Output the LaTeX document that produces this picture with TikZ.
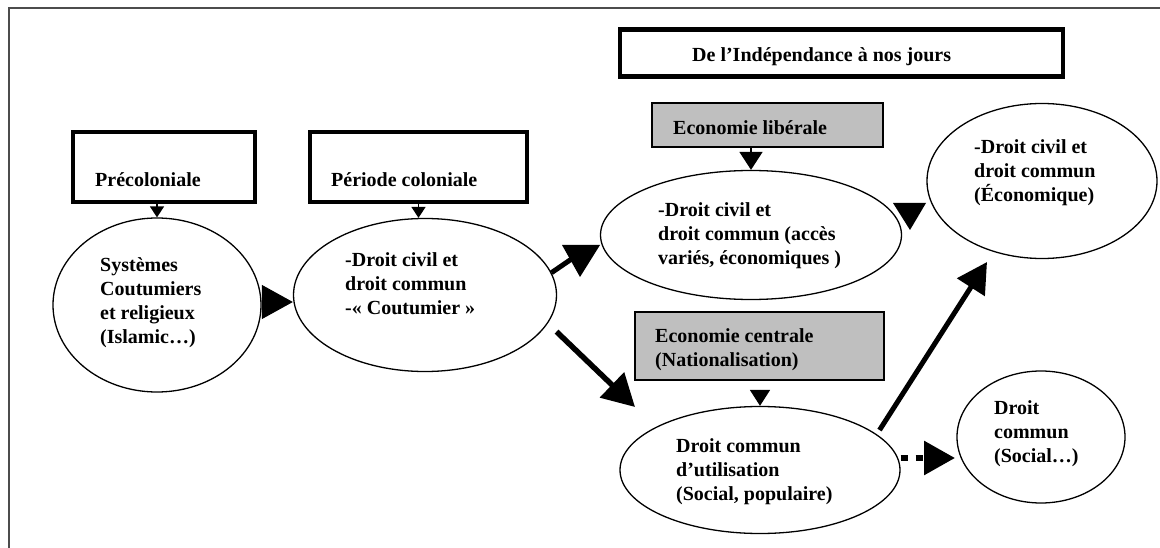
\documentclass[tikz,border=0pt]{standalone}
\usepackage{fontspec}
\setmainfont{Liberation Serif}
\usetikzlibrary{arrows.meta,shapes.geometric}

\begin{document}
\begin{tikzpicture}[x=1pt,y=-1pt,
  period/.style={draw, line width=4.5pt, inner sep=0pt},
  regime/.style={draw, line width=1.6pt, fill=black!25, inner sep=0pt},
  law/.style={draw, ellipse, line width=1.3pt, inner sep=0pt},
  txt/.style={anchor=north west, inner sep=0pt, align=left,
              font=\fontsize{20}{24}\selectfont\bfseries},
  feed/.style={line width=1.8pt, -{Triangle[length=11pt,width=14pt]}},
  bigarrow/.style={line width=5.5pt, -{Triangle[length=32pt,width=34pt]}},
  dotarrow/.style={line width=6pt, dash pattern=on 7pt off 8pt,
                   -{Triangle[length=31pt,width=33pt]}},
]
\useasboundingbox (0,0) rectangle (1160,548);

% outer frame (left and top edges only)
\draw[line width=2.2pt, black!70] (9,548) -- (9,8) -- (1160,8);

% period boxes
\node[period, minimum width=182pt, minimum height=70pt] (preB) at (164,167) {};
\node[period, minimum width=217pt, minimum height=70pt] (colB) at (418.5,167) {};
\node[period, minimum width=443pt, minimum height=47pt] (indB) at (841.5,53) {};

% economic regime boxes
\node[regime, minimum width=231pt, minimum height=44pt] (libB) at (767.5,125) {};
\node[regime, minimum width=249pt, minimum height=68pt] (cenB) at (759.5,346) {};

% legal systems
\node[law, minimum width=208pt, minimum height=174pt] (pre) at (157,305) {};
\node[law, minimum width=263pt, minimum height=153pt] (col) at (425,295) {};
\node[law, minimum width=301pt, minimum height=129pt] (lib) at (751,235) {};
\node[law, minimum width=230pt, minimum height=155pt] (eco) at (1042,181) {};
\node[law, minimum width=280pt, minimum height=127pt] (uti) at (760,470) {};
\node[law, minimum width=168pt, minimum height=132pt] (soc) at (1041,437) {};

% labels
\node[txt] (tPre) at (95,169.2) {\strut Précoloniale};
\node[txt] (tCol) at (331,169.2) {\strut Période coloniale};
\node[txt] (tInd) at (692,44.2) {\strut De l’Indépendance à nos jours};
\node[txt] (tLib) at (673,117.2) {\strut Economie libérale};
\node[txt] (tCen) at (655,325.2) {\strut Economie centrale\\(Nationalisation)};
\node[txt] (tPreE) at (100,254.2) {\strut Systèmes\\Coutumiers\\et religieux\\(Islamic…)};
\node[txt] (tColE) at (345,249.2) {\strut -Droit civil et\\droit commun\\-« Coutumier »};
\node[txt] (tLibE) at (658,199.2) {\strut -Droit civil et\\droit commun (accès\\variés, économiques )};
\node[txt] (tEcoE) at (974,136.2) {\strut -Droit civil et\\droit commun\\(Économique)};
\node[txt] (tUtiE) at (676,435.2) {\strut Droit commun\\d’utilisation\\(Social, populaire)};
\node[txt] (tSocE) at (994,397.2) {\strut Droit\\commun\\(Social…)};

% free arrow ends
\coordinate (k1) at (573,258);
\coordinate (t1) at (635,407);
\coordinate (t2) at (987,262);
\coordinate (t3) at (955,458);

% box to ellipse arrows
\draw[feed] (preB.south -| pre.north) -- (pre.north);
\draw[feed] (colB.south) -- (colB.south |- col.north);
\draw[line width=1.8pt, -{Triangle[length=18pt,width=23pt]}] (libB.south -| lib.north) -- (lib.north);
\draw[line width=1.8pt, -{Triangle[length=16pt,width=20pt]}, shorten <=9pt] (cenB.south -| uti.north) -- (uti.north);

% precolonial to colonial
\draw[line width=1pt, -{Triangle[length=31pt,width=34pt]}] ([yshift=3pt]pre.east) -- ([yshift=3pt]pre.east -| col.west);

% colonial to liberal economy
\draw[line width=5pt] (col.10) -- (k1);
\fill (562,245) -- (600,245) -- (580,277) -- cycle;

% liberal to economic law
\fill (893,203) -- (926,203) -- (910,230) -- cycle;

% colonial to central economy
\draw[bigarrow, shorten <=12pt] (col.-13) -- (t1);

% usage law to economic law
\draw[line width=5pt, -{Triangle[length=30pt,width=32pt]}, shorten <=5pt] (uti.17) -- (t2);

% usage law to social law
\draw[dotarrow] (uti.east |- t3) -- (t3);

\end{tikzpicture}
\end{document}
